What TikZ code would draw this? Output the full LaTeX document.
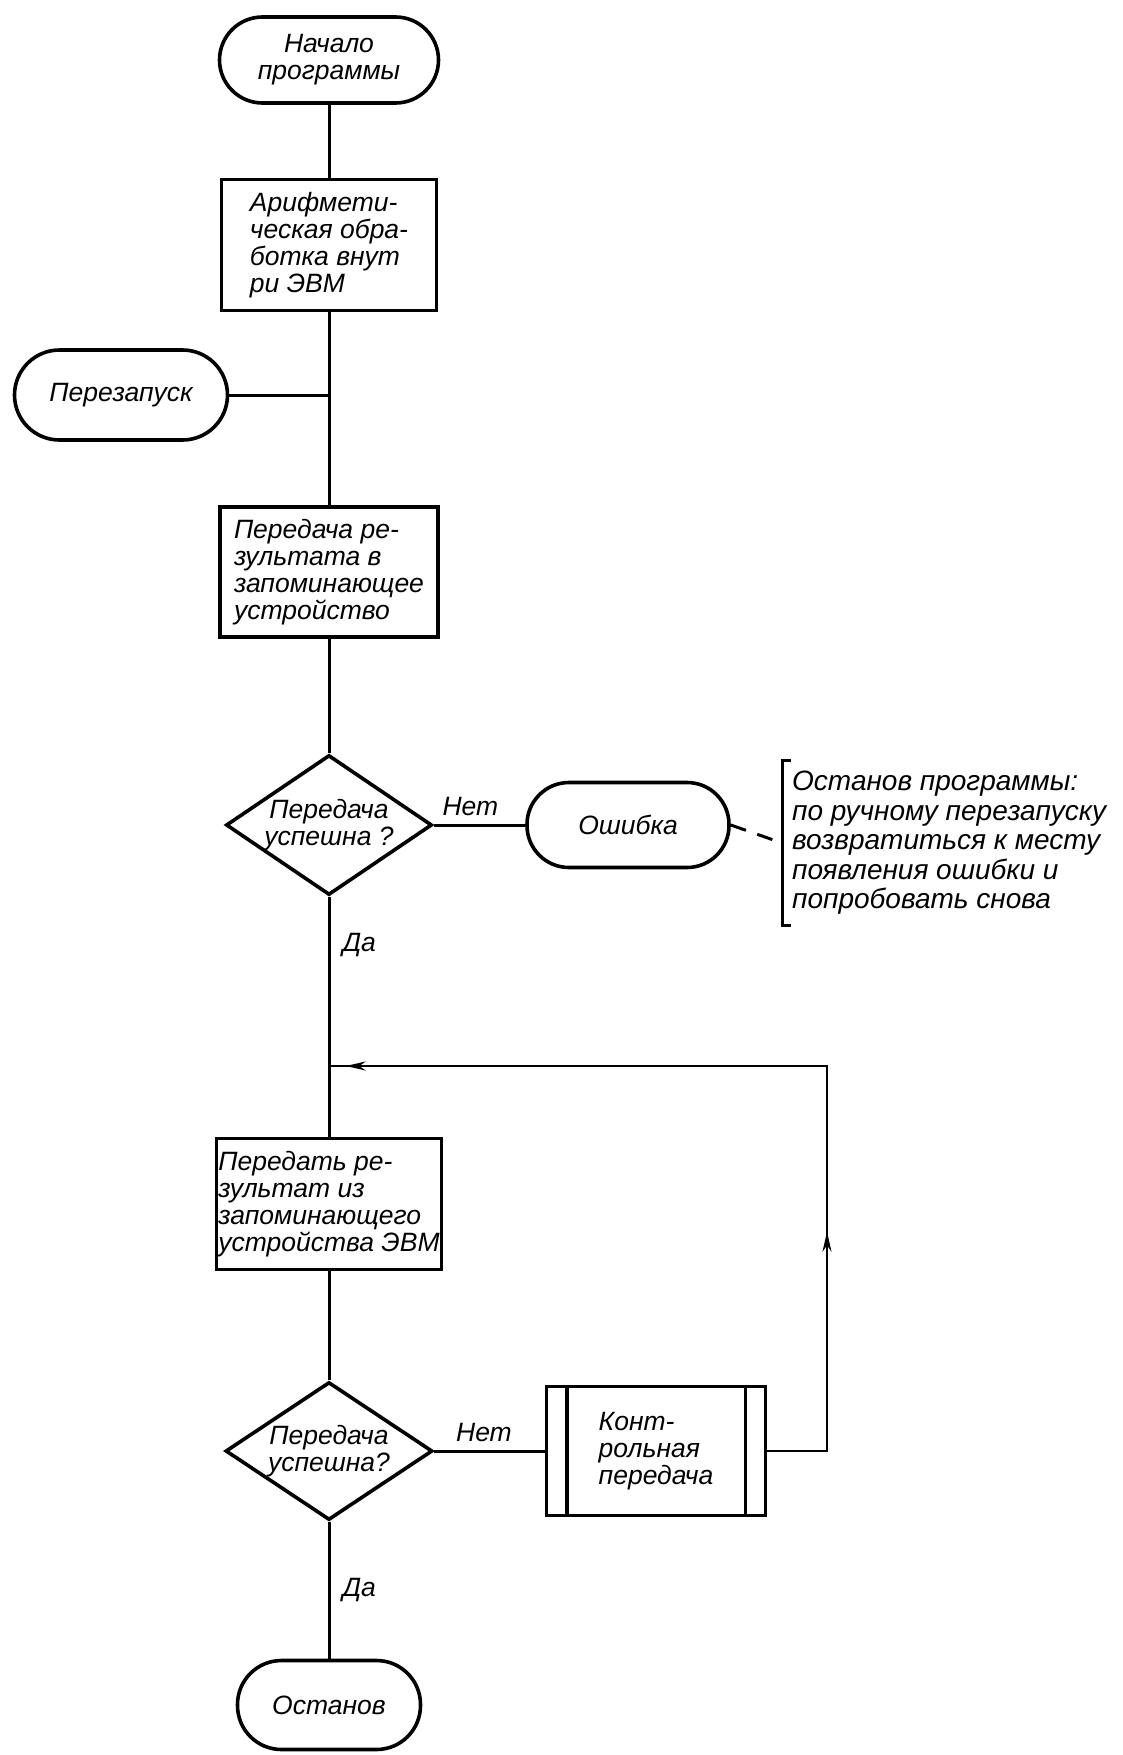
\documentclass[tikz,border=0pt]{standalone}
\usepackage{fontspec}
\setmainfont{Liberation Sans}
\usetikzlibrary{shapes.geometric,arrows.meta,decorations.markings}

\def\mainX{329}
\def\loopX{827}
\def\loopY{1066}

\tikzset{
    handtext/.style = {font=\fontsize{26.5}{27}\selectfont\itshape},
    terminal/.style = {draw, line width=3.6pt, inner sep=0pt, align=center, handtext},
    procbox/.style  = {draw, line width=3.6pt, inner sep=0pt, minimum width=218pt,
                       minimum height=130pt, align=left, handtext},
    decision/.style = {draw, diamond, shape aspect=1.47, line width=3.6pt, inner sep=-4pt,
                       minimum width=206pt, minimum height=140pt, align=center, handtext},
    flow/.style     = {line width=3pt},
    answer/.style   = {inner sep=0pt, handtext},
}

\begin{document}
\begin{tikzpicture}[x=1pt, y=-1pt]
            \useasboundingbox (0,0) rectangle (1122,1755);

            %% main column
            \node [terminal, minimum width=219pt, minimum height=86pt, rounded corners=43pt]
                (start) at (\mainX,60) {Начало\\программы};
            \node [procbox, minimum width=215pt, minimum height=131pt]
                (arith) at (\mainX,245) {Арифмети-\\ческая обра-\\ботка внут\\ри ЭВМ};
            \node [terminal, minimum width=213pt, minimum height=90pt, rounded corners=45pt]
                (restart) at (121,395) {Перезапуск};
            \node [procbox]
                (store) at (\mainX,572) {Передача ре-\\зультата в\\запоминающее\\устройство};
            \node [decision]
                (check1) at (\mainX,825) {Передача\\успешна ?};
            \node [terminal, minimum width=202pt, minimum height=85pt, rounded corners=42pt]
                (error) at (628,825) {Ошибка};
            \node [answer, anchor=west, align=left, minimum height=165pt, inner xsep=10pt,
                   font=\fontsize{28}{29.5}\selectfont\itshape]
                (note) at (782,843) {Останов программы:\\по ручному перезапуску\\возвратиться к месту\\появления ошибки и\\попробовать снова};
            \node [procbox, minimum width=225pt, minimum height=131pt]
                (fetch) at (\mainX,1204) {Передать ре-\\зультат из\\запоминающего\\устройства ЭВМ};
            \node [decision, minimum width=207pt, minimum height=138pt]
                (check2) at (\mainX,1451) {Передача\\успешна?};
            \node [procbox, minimum width=219pt, minimum height=129pt]
                (control) at (656,1451) {Конт-\\рольная\\передача};
            \node [terminal, minimum width=183pt, minimum height=89pt, rounded corners=44pt]
                (stop) at (\mainX,1705) {Останов};

            %% predefined process side bars
            \draw [line width=3.6pt]
            ([xshift=22pt]control.north west) -- ([xshift=22pt]control.south west)
            ([xshift=-22pt]control.north east) -- ([xshift=-22pt]control.south east)
            ;

            %% annotation bracket
            \draw [flow]
            ([xshift=9pt]note.north west) -- (note.north west)
            -- (note.south west) -- ([xshift=9pt]note.south west)
            ;

            \coordinate (merge) at (\mainX,\loopY);

            %% connectors
            \draw [flow] (start) -- (arith);
            \draw [flow] (arith) -- (store);
            \draw [flow] (restart.east) -- (restart.east -| arith.south);
            \draw [flow] (store) -- (check1);
            \draw [flow] (check1.east) -- (error.west)
                node [answer, pos=0.4, above=8pt] {Нет};
            \draw [flow, dash pattern=on 16pt off 12pt] (error.east) -- (note.west);
            \draw [flow] (check1.south) -- (fetch.north)
                node [answer, pos=0.2, right=12pt] {Да};
            \draw [flow] (fetch) -- (check2);
            \draw [flow] (check2.east) -- (control.west)
                node [answer, pos=0.45, above=8pt] {Нет};
            \draw [flow] (check2.south) -- (stop.north)
                node [answer, pos=0.5, right=12pt] {Да};
            \draw [flow, line width=2.4pt, postaction={decorate}, decoration={markings,
                   mark=at position 279pt with {\arrow{Stealth[length=20pt, width=9pt]}},
                   mark=at position 926pt with {\arrow{Stealth[length=20pt, width=9pt]}}}]
            (control.east) -| (\loopX,\loopY) -- (merge);
        \end{tikzpicture}
\end{document}
